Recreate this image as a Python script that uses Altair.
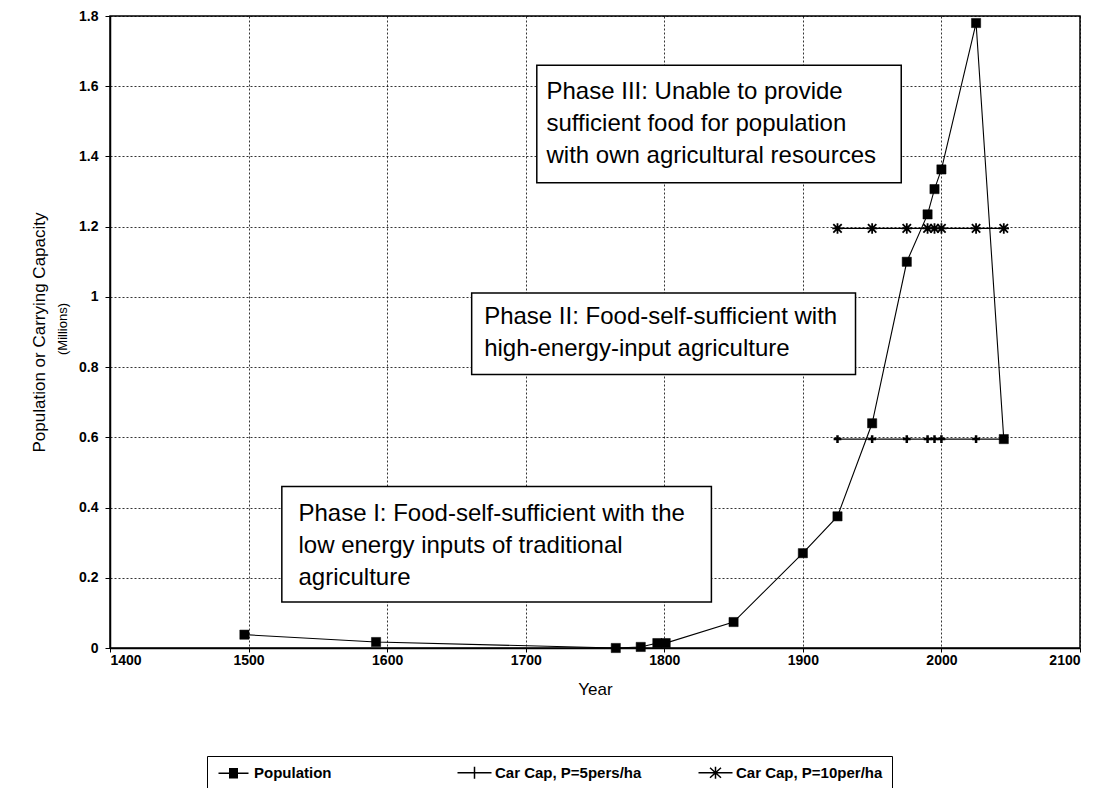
import altair as alt
import pandas as pd

# ---- data ----
series_names = ["Population", "Car Cap, P=5pers/ha", "Car Cap, P=10per/ha"]

pop_years = [1497, 1592, 1765, 1783, 1795, 1801, 1850, 1900, 1925, 1950, 1975, 1990, 1995, 2000, 2025, 2045]
pop_values = [0.038, 0.017, 0.0, 0.003, 0.014, 0.014, 0.074, 0.27, 0.375, 0.64, 1.10, 1.235, 1.307, 1.363, 1.78, 0.595]

cap_years = [1925, 1950, 1975, 1990, 1995, 2000, 2025, 2045]
cap5_values = [0.595, 0.595, 0.595, 0.595, 0.595, 0.595, 0.595, 0.595]
cap10_values = [1.195, 1.195, 1.195, 1.195, 1.195, 1.195, 1.195, 1.195]

x_ticks = [1400, 1500, 1600, 1700, 1800, 1900, 2000, 2100]
y_ticks = [0, 0.2, 0.4, 0.6, 0.8, 1.0, 1.2, 1.4, 1.6, 1.8]

box_labels = [
    ["Phase I: Food-self-sufficient with the", "low energy inputs of traditional", "agriculture"],
    ["Phase II: Food-self-sufficient with", "high-energy-input agriculture"],
    ["Phase III: Unable to provide", "sufficient food for population", "with own agricultural resources"],
]
box_left = [1524, 1661, 1708]
box_right = [1834, 1938, 1971]
box_top = [0.460, 1.011, 1.660]
box_bottom = [0.131, 0.779, 1.325]
text_x = [1536, 1670, 1715]
text_y = [0.363, 0.922, 1.564]

# ---- tables ----
rows = []
for yr, v in zip(pop_years, pop_values):
    rows.append({"year": yr, "value": v, "series": series_names[0]})
for yr, v in zip(cap_years, cap5_values):
    rows.append({"year": yr, "value": v, "series": series_names[1]})
for yr, v in zip(cap_years, cap10_values):
    rows.append({"year": yr, "value": v, "series": series_names[2]})
df = pd.DataFrame(rows)

boxes = pd.DataFrame({"x1": box_left, "x2": box_right, "y1": box_top, "y2": box_bottom})
texts = pd.DataFrame({"tx": text_x, "ty": text_y, "label": box_labels})

FONT = "Liberation Sans"

x_scale = alt.Scale(domain=[1400, 2100], nice=False, zero=False)
y_scale = alt.Scale(domain=[0, 1.8], nice=False, zero=False)
x_axis = alt.Axis(values=x_ticks, format="d", title="Year", titlePadding=14,
                  labelPadding=1, tickSize=4)
y_axis = alt.Axis(values=y_ticks, format=".1~f", title="Population or Carrying Capacity",
                  titlePadding=30, labelPadding=7, tickSize=5)

base = alt.Chart(df).encode(
    x=alt.X("year:Q", scale=x_scale, axis=x_axis),
    y=alt.Y("value:Q", scale=y_scale, axis=y_axis),
)

box_layer = alt.Chart(boxes).mark_rect(fill="white", stroke="black", strokeWidth=1.5).encode(
    x=alt.X("x1:Q", scale=x_scale, axis=x_axis),
    x2="x2:Q",
    y=alt.Y("y1:Q", scale=y_scale, axis=y_axis),
    y2="y2:Q",
)

text_layer = alt.Chart(texts).mark_text(
    align="left", baseline="alphabetic", font=FONT, fontSize=24, lineHeight=32, color="black"
).encode(
    x=alt.X("tx:Q", scale=x_scale, axis=x_axis),
    y=alt.Y("ty:Q", scale=y_scale, axis=y_axis),
    text="label",
)

lines = base.mark_line(color="black", strokeWidth=1.1).encode(detail="series:N")

plus_path = "M-1,0L1,0M0,-1L0,1"
star_path = "M-1,0L1,0M0,-1L0,1M-0.8,-0.8L0.8,0.8M-0.8,0.8L0.8,-0.8"

pts_pop = base.transform_filter(alt.datum.series == series_names[0]).mark_point(
    shape="square", filled=True, fill="black", stroke="black", strokeWidth=0.5, size=85, opacity=1
)
pts_c5 = base.transform_filter(alt.datum.series == series_names[1]).mark_point(
    shape=plus_path, filled=True, fill="black", stroke="black", strokeWidth=2.5, size=60, opacity=1
)
pts_c10 = base.transform_filter(alt.datum.series == series_names[2]).mark_point(
    shape=star_path, filled=True, fill="black", stroke="black", strokeWidth=1.8, size=110, opacity=1
)

# legend symbols drawn with strokes only (square filled by dense strokes)
sq_fill = "".join("M-0.9,%.1fL0.9,%.1f" % (k / 10.0, k / 10.0) for k in range(-9, 10, 2))
legend_paths = [
    "M-3,0L3,0" + sq_fill,
    "M-3.4,0L3.4,0M0,-1.2L0,1.2",
    "M-3.4,0L3.4,0M0,-1.2L0,1.2M-1.1,-1L1.1,1M-1.1,1L1.1,-1",
]

legend_layer = base.mark_point(opacity=0, filled=False, color="black").encode(
    shape=alt.Shape(
        "series:N",
        scale=alt.Scale(domain=series_names, range=legend_paths),
        legend=alt.Legend(
            title=None,
            orient="none",
            legendX=97,
            legendY=740,
            direction="horizontal",
            columns=3,
            gridAlign="all",
            columnPadding=53,
            strokeColor="black",
            fillColor="white",
            padding=9,
            symbolSize=100,
            symbolOpacity=1,
            symbolStrokeColor="black",
            symbolStrokeWidth=1.5,
            symbolOffset=10,
            labelOffset=13,
            labelFont=FONT,
            labelFontSize=15,
            labelFontWeight="bold",
            labelColor="black",
            labelLimit=300,
        ),
    )
)

millions = alt.Chart(pd.DataFrame({"t": ["(Millions)"]})).mark_text(
    angle=270, font=FONT, fontSize=13, color="black", baseline="middle", align="center"
).encode(text="t:N", x=alt.value(-47), y=alt.value(313))

chart = alt.layer(
    box_layer, lines, pts_pop, pts_c5, pts_c10, legend_layer, text_layer, millions
).properties(
    width=970,
    height=632,
    padding={"left": 102, "top": 8, "right": 15, "bottom": 140},
    autosize=alt.AutoSizeParams(type="none"),
).configure_view(
    stroke="black", strokeWidth=1.5
).configure_axis(
    domainColor="black",
    domainWidth=1.5,
    tickColor="black",
    tickWidth=1,
    labelFont=FONT,
    labelFontSize=14,
    labelFontWeight="bold",
    labelColor="black",
    titleFont=FONT,
    titleFontSize=17,
    titleFontWeight="normal",
    titleColor="black",
    grid=True,
    gridColor="black",
    gridDash=[2, 2],
    gridWidth=0.8,
    gridOpacity=1,
)

chart.save("out.html", embed_options={"renderer": "svg", "actions": False})
